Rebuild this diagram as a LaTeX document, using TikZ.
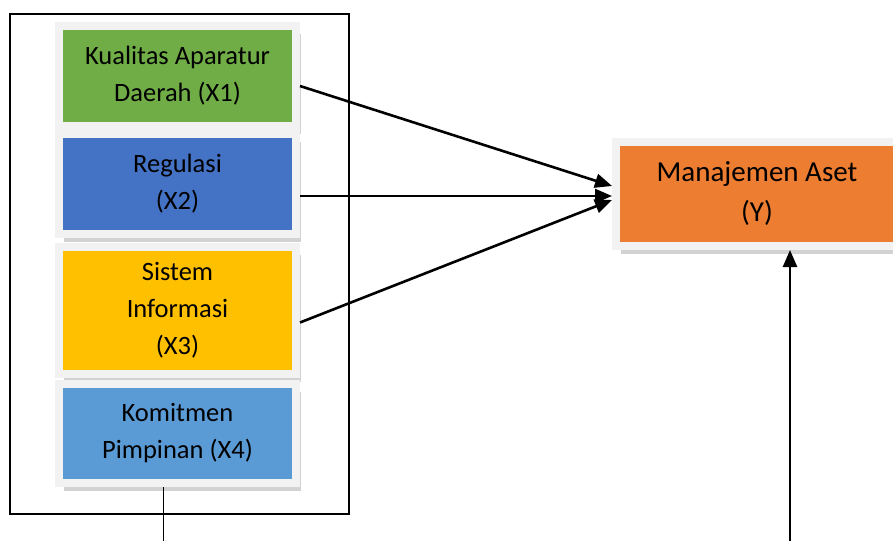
\documentclass[tikz,border=0pt]{standalone}
\usepackage{fontspec}
\setmainfont{Carlito}
\usepackage{tikz}
\usetikzlibrary{arrows.meta,shadows}

\definecolor{hijau}{HTML}{70AD47}
\definecolor{biru}{HTML}{4472C4}
\definecolor{kuning}{HTML}{FFC000}
\definecolor{birumuda}{HTML}{5B9BD5}
\definecolor{oranye}{HTML}{ED7D31}
\definecolor{bingkai}{HTML}{F2F2F2}

\begin{document}
\begin{tikzpicture}[x=1pt,y=-1pt,
    varbox/.style={rectangle, draw=bingkai, line width=8pt, minimum width=237pt,
        align=center, font=\fontsize{26.5}{37}\selectfont,
        drop shadow={shadow xshift=5pt, shadow yshift=-8pt, fill=black!70, opacity=0.25}},
    arr/.style={-{Triangle[length=17pt,width=14pt]}, line width=2.6pt}]
    \clip (0,0) rectangle (893,541);
    \useasboundingbox (0,0) rectangle (893,541);
    % kotak luar
    \draw[line width=2.6pt] (10,14) rectangle (349,514);
    % variabel bebas
    \node[varbox, fill=hijau, minimum height=100pt] (x1) at (177.5,76) {Kualitas Aparatur\\Daerah (X1)};
    \node[varbox, fill=biru, minimum height=100pt] (x2) at (177.5,184) {Regulasi\\(X2)};
    \node[varbox, fill=kuning, minimum height=127pt] (x3) at (177.5,310.5) {Sistem\\Informasi\\(X3)};
    \node[varbox, fill=birumuda, minimum height=99pt] (x4) at (177.5,433.5) {Komitmen\\Pimpinan (X4)};
    % variabel terikat
    \node[varbox, fill=oranye, minimum width=282pt, minimum height=104pt,
        font=\fontsize{29}{40}\selectfont] (y) at (757,194) {Manajemen Aset\\(Y)};
    % panah
    \draw[arr] ([yshift=-10pt]x1.east) -- ([yshift=8pt]y.west);
    \draw[arr] ([yshift=-12pt]x2.east) -- ([yshift=-2pt]y.west);
    \draw[arr] ([yshift=-12pt]x3.east) -- ([yshift=-6pt]y.west);
    \coordinate (bawah4) at (163,541);
    \coordinate (bawahY) at (790,541);
    \draw[line width=1pt] ([xshift=-14.5pt]x4.south) -- (bawah4);
    \draw[arr] (bawahY) -- (bawahY |- y.south);
\end{tikzpicture}
\end{document}
